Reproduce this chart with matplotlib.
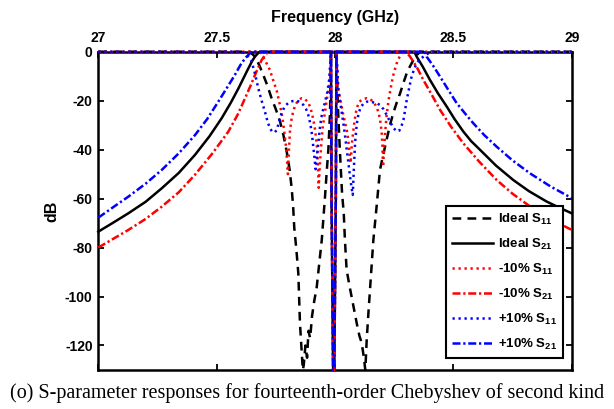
import matplotlib
matplotlib.use('Agg')
import matplotlib.pyplot as plt

plt.rcParams['font.family'] = 'Liberation Sans'
plt.rcParams['font.weight'] = 'bold'
plt.rcParams['axes.unicode_minus'] = False
plt.rcParams['mathtext.fontset'] = 'custom'
plt.rcParams['mathtext.rm'] = 'Liberation Sans:bold'
plt.rcParams['mathtext.it'] = 'Liberation Sans:bold'
plt.rcParams['mathtext.bf'] = 'Liberation Sans:bold'

# Ideal S11 (GHz, dB)
f_s11_ideal = [27.0, 27.64, 27.662, 27.68, 27.697, 27.715, 27.732, 27.75, 27.768, 27.782,
               27.796, 27.808, 27.817, 27.823, 27.828, 27.837, 27.845, 27.852, 27.859, 27.864,
               27.868, 27.875, 27.882, 27.888, 27.895, 27.903, 27.912, 27.923, 27.934, 27.944,
               27.951, 27.958, 27.965, 27.972, 27.979, 27.983,
               28.006, 28.012, 28.018, 28.024, 28.03, 28.037, 28.042, 28.049, 28.06, 28.07,
               28.08, 28.092, 28.103, 28.113, 28.122, 28.128, 28.131, 28.134, 28.141, 28.148,
               28.155, 28.162, 28.176, 28.19, 28.204, 28.218, 28.232, 28.246, 28.26, 28.275,
               28.29, 28.303, 28.314, 28.324, 28.335, 28.345, 28.36, 29.0]
db_s11_ideal = [0, 0, -2, -5.5, -9.5, -14, -19, -23.5, -28.6, -34,
                -40.8, -48, -55.8, -63, -72, -81, -90.5, -111, -122, -130,
                -128, -120, -125, -114, -117, -108, -102, -96, -86, -77,
                -68, -59, -49, -40, -25, 0,
                0, -22, -35, -47, -58, -66, -77, -89, -95, -100,
                -105, -111, -116, -119, -125, -130, -124, -117.6, -107, -97,
                -87, -77, -63, -48.3, -42, -36, -30, -25.2, -21, -17,
                -12.5, -8.8, -6.5, -4.7, -2.7, -1.4, 0, 0]

# Ideal S21
f_s21_ideal = [27.0, 27.06, 27.127, 27.2, 27.268, 27.34, 27.408, 27.47, 27.521, 27.56,
               27.592, 27.615, 27.634, 27.65, 27.662, 27.673, 27.683,
               27.983, 27.9855, 27.992, 27.997, 28.0035, 28.006,
               28.335, 28.345, 28.37, 28.401, 28.435, 28.472, 28.505, 28.542, 28.575, 28.612,
               28.68, 28.753, 28.82, 28.894, 28.95, 29.0]
db_s21_ideal = [-73.5, -70, -66, -61.3, -55.8, -49.5, -42.2, -34.5, -27.2, -20.8,
                -15, -10.5, -6.8, -3.8, -2, -0.8, 0,
                0, -60, -130, -130, -60, 0,
                0, -2, -6, -11.5, -17, -22.4, -27.5, -32.6, -36.5, -40,
                -46.5, -52.4, -57, -61.2, -63.8, -66]

# -10% S11
f_s11_minus = [27.0, 27.683, 27.694, 27.704, 27.715, 27.725, 27.74, 27.754, 27.768, 27.777,
               27.785, 27.792, 27.797, 27.801, 27.805, 27.81, 27.818, 27.831, 27.845, 27.859,
               27.873, 27.887, 27.898, 27.908, 27.916, 27.923, 27.928, 27.931, 27.936, 27.942,
               27.948, 27.958, 27.968, 27.976, 27.983,
               28.006, 28.012, 28.024, 28.035, 28.045, 28.052, 28.058, 28.062, 28.066, 28.071,
               28.077, 28.083, 28.089, 28.096, 28.103, 28.118, 28.134, 28.148, 28.162, 28.172,
               28.183, 28.19, 28.197, 28.2, 28.203, 28.207, 28.212, 28.218, 28.226, 28.235,
               28.245, 28.255, 28.265, 28.278, 28.29, 29.0]
db_s11_minus = [0, 0, -1.5, -3.5, -5.5, -7.5, -12, -16, -22, -26.5,
                -32, -38, -44, -50, -41, -32, -26.5, -22, -19.8, -19,
                -19.4, -20.6, -23.5, -27.5, -32, -38, -46, -55.6, -46, -38,
                -31, -24.5, -17.8, -14, 0,
                0, -15, -20.5, -25.8, -30, -33, -38, -42, -45.5, -38,
                -32.6, -28, -24.5, -22, -20.4, -19.4, -19, -19.4, -20.4, -22,
                -24.5, -27.5, -32.6, -38, -47, -40, -33, -26, -20, -15,
                -10, -6.5, -3.5, -1.2, 0, 0]

# -10% S21
f_s21_minus = [27.0, 27.06, 27.127, 27.2, 27.268, 27.34, 27.408, 27.48, 27.549, 27.59,
               27.62, 27.645, 27.662, 27.677, 27.69, 27.705, 27.718,
               27.983, 27.9855, 27.992, 27.997, 28.0035, 28.006,
               28.3, 28.317, 28.345, 28.373, 28.41, 28.444, 28.49, 28.542, 28.61, 28.683,
               28.75, 28.824, 28.91, 29.0]
db_s21_minus = [-80, -76.6, -72.8, -68.3, -63.3, -57.4, -50.3, -41.8, -32.7, -25.5,
                -19, -13.5, -9.5, -6.2, -3.4, -1.3, 0,
                0, -60, -130, -130, -60, 0,
                0, -2, -6.2, -11.5, -17.8, -23.8, -30.6, -37.4, -45, -52.4,
                -58, -63.2, -68.3, -72.8]

# +10% S11
f_s11_plus = [27.0, 27.606, 27.625, 27.638, 27.648, 27.662, 27.676, 27.69, 27.704, 27.715,
              27.725, 27.736, 27.746, 27.755, 27.765, 27.775, 27.79, 27.805, 27.82, 27.838,
              27.853, 27.866, 27.878, 27.887, 27.896, 27.903, 27.909, 27.914, 27.918, 27.922,
              27.929, 27.935, 27.942, 27.95, 27.958, 27.968, 27.976, 27.983,
              28.006, 28.014, 28.021, 28.028, 28.035, 28.042, 28.049, 28.056, 28.063, 28.07,
              28.075, 28.08, 28.085, 28.092, 28.1, 28.11, 28.122, 28.135, 28.15, 28.165,
              28.18, 28.19, 28.205, 28.218, 28.232, 28.246, 28.26, 28.272, 28.282, 28.289,
              28.296, 28.303, 28.314, 28.324, 28.335, 28.345, 28.36, 28.374, 28.39, 28.41, 29.0]
db_s11_plus = [0, 0, -1.2, -2.5, -4.1, -9, -15, -20, -24.5, -28.5,
               -31.3, -32.8, -32.9, -31.8, -28, -24.8, -22, -20.8, -20.2, -20,
               -20.6, -21.7, -23.5, -25.8, -29.5, -34, -39.5, -44, -48, -44.5,
               -38, -32, -27, -23.5, -20.5, -16.3, -11, 0,
               0, -15, -20, -24.5, -29, -34, -39.5, -45, -50.5, -55.6,
               -58.5, -47, -37, -29.5, -25, -22.5, -21, -20.4, -20.4, -20.8,
               -21.2, -21.8, -23.5, -25.8, -28.5, -31, -32.5, -32.2, -30, -27.9,
               -24, -19.7, -14.5, -10, -7, -4.7, -3, -2, -0.9, 0, 0]

# +10% S21
f_s21_plus = [27.0, 27.06, 27.127, 27.2, 27.268, 27.34, 27.409, 27.46, 27.507, 27.545,
              27.577, 27.6, 27.62, 27.635, 27.648,
              27.983, 27.9855, 27.992, 27.997, 28.0035, 28.006,
              28.38, 28.387, 28.415, 28.444, 28.48, 28.514, 28.55, 28.584, 28.63, 28.683,
              28.75, 28.824, 28.91, 29.0]
db_s21_plus = [-67.8, -63.7, -59.2, -53.9, -48.3, -41.5, -34, -27.5, -20.4, -14.5,
               -9.5, -5.5, -2.7, -1.2, 0,
               0, -60, -130, -130, -60, 0,
               0, -2, -5.8, -10.2, -15.8, -21, -25.3, -29.2, -34, -38.8,
               -44.4, -49.7, -55, -59.8]

x_ticks = [27, 27.5, 28, 28.5, 29]
x_tick_labels = ['27', '27.5', '28', '28.5', '29']
y_ticks = [-120, -100, -80, -60, -40, -20, 0]

dash = (0, (3.5, 2.5))
dashdot = (0, (3.2, 1.1, 0.9, 1.1))
dot = (0, (0.9, 1.5))
lw = 1.8

fig = plt.figure(figsize=(6.14, 4.09), dpi=100)
ax = fig.add_axes([0.1601, 0.0954, 0.771, 0.7782])

# lines drawn unclipped so the 0 dB traces sit fully on top of the box edge
kw = dict(lw=lw, clip_on=False, zorder=3)
ax.plot(f_s11_ideal, db_s11_ideal, color='k', ls=dash, label='Ideal S$_{11}$', **kw)
ax.plot(f_s21_ideal, db_s21_ideal, color='k', ls='-', label='Ideal S$_{21}$', **kw)
ax.plot(f_s11_minus, db_s11_minus, color='r', ls=dot, label='-10% S$_{11}$', **kw)
ax.plot(f_s21_minus, db_s21_minus, color='r', ls=dashdot, label='-10% S$_{21}$', **kw)
ax.plot(f_s11_plus, db_s11_plus, color='b', ls=dot, label='+10% S$_{11}$', **kw)
ax.plot(f_s21_plus, db_s21_plus, color='b', ls=dashdot, label='+10% S$_{21}$', **kw)

ax.set_xlim(27, 29)
ax.set_ylim(-130, 0)
ax.set_xticks(x_ticks)
ax.set_xticklabels(x_tick_labels)
ax.set_yticks(y_ticks)

ax.xaxis.set_label_position('top')
ax.set_xlabel('Frequency (GHz)', fontsize=11.5, fontweight='bold', labelpad=6)
ax.set_ylabel('dB', fontsize=11.5, fontweight='bold', labelpad=4)

ax.tick_params(axis='x', which='both', top=True, bottom=True, labeltop=True,
               labelbottom=False, direction='in', length=4.5, width=1.3,
               labelsize=10, pad=5)
ax.tick_params(axis='y', which='both', left=True, right=True, direction='in',
               length=4.5, width=1.3, labelsize=10, pad=4)
for sp in ax.spines.values():
    sp.set_linewidth(1.8)
    sp.set_zorder(2)

leg = ax.legend(loc='lower left', bbox_to_anchor=(0.7264, 0.1247),
                bbox_transform=fig.transFigure, borderaxespad=0,
                fontsize=9.5, handlelength=3.1, handletextpad=0.4,
                labelspacing=0.75, borderpad=0.45, fancybox=False,
                framealpha=1, edgecolor='k')
leg.get_frame().set_linewidth(1.5)
leg.set_zorder(5)

fig.text(10 / 614, 1 - 393 / 409,
         '(o) S-parameter responses for fourteenth-order Chebyshev of second kind',
         fontsize=14.5, family='Liberation Serif', fontweight='normal', va='center')

fig.savefig('out.png', dpi=100)
